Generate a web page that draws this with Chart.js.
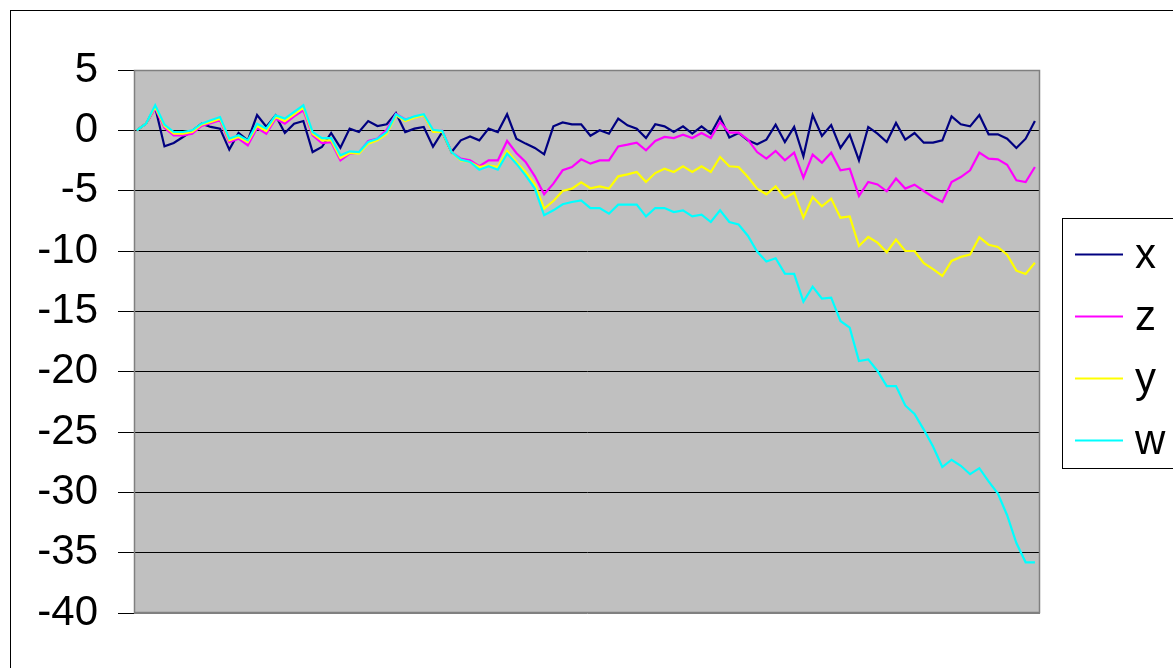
<!DOCTYPE html>
<html>
<head>
<meta charset="utf-8">
<style>
  html, body { margin: 0; padding: 0; background: #fff; }
  #wrap { width: 1173px; height: 668px; position: relative; overflow: hidden; }
</style>
<script src="https://cdn.jsdelivr.net/npm/chart.js@4.4.1/dist/chart.umd.min.js"></script>
</head>
<body>
<div id="wrap"><canvas id="c" width="1173" height="668"></canvas></div>
<script>
// Period numbers along the horizontal axis (not labelled)
const periods = Array.from({ length: 98 }, (_, i) => i + 1);

const seriesNames = ['x', 'z', 'y', 'w'];
const seriesColors = ['#000080', '#FF00FF', '#FFFF00', '#00FFFF'];

const xValues = [
  0, 0.55, 1.9, -1.33, -1.05, -0.55, -0.05, 0.55, 0.28, 0.14,
  -1.6, -0.22, -0.83, 1.27, 0.3, 1.24, -0.22, 0.55, 0.77, -1.8,
  -1.38, -0.22, -1.44, 0.14, -0.14, 0.77, 0.36, 0.5, 1.44, -0.14,
  0.14, 0.28, -1.35, -0.14, -1.8, -0.83, -0.5, -0.83, 0.14, -0.14,
  1.33, -0.69, -1.1, -1.46, -1.99, 0.33, 0.66, 0.5, 0.5, -0.45,
  0, -0.28, 0.97, 0.41, 0.14, -0.64, 0.5, 0.33, -0.14, 0.33,
  -0.28, 0.33, -0.28, 1.1, -0.6, -0.22, -0.83, -1.16, -0.77, 0.47,
  -0.97, 0.28, -2.15, 1.27, -0.47, 0.44, -1.46, -0.36, -2.49, 0.28,
  -0.28, -0.97, 0.61, -0.77, -0.22, -1.02, -1.02, -0.83, 1.16, 0.5,
  0.33, 1.27, -0.33, -0.33, -0.69, -1.46, -0.69, 0.77
];

const zValues = [
  0, 0.55, 1.8, 0.22, -0.41, -0.41, -0.28, 0.36, 0.6, 0.83,
  -0.97, -0.69, -1.24, 0.19, -0.28, 0.97, 0.55, 1.16, 1.66, -0.41,
  -1.05, -0.97, -2.49, -1.93, -1.85, -0.88, -0.69, 0.05, 1.38, 0.9,
  1.1, 1.24, -0.1, -0.05, -1.8, -2.35, -2.49, -2.98, -2.49, -2.49,
  -0.88, -1.88, -2.62, -3.81, -5.3, -4.42, -3.31, -3.04, -2.4, -2.76,
  -2.49, -2.49, -1.33, -1.19, -1.02, -1.66, -0.88, -0.55, -0.64, -0.36,
  -0.64, -0.22, -0.64, 0.69, -0.19, -0.19, -0.77, -1.8, -2.35, -1.71,
  -2.49, -1.85, -3.92, -2.02, -2.68, -1.85, -3.31, -3.18, -5.44, -4.28,
  -4.48, -5.05, -4.0, -4.83, -4.5, -5.03, -5.52, -5.94, -4.28, -3.87,
  -3.31, -1.85, -2.35, -2.4, -2.85, -4.14, -4.28, -3.04
];

const yValues = [
  0, 0.55, 1.93, 0.36, -0.28, -0.28, -0.14, 0.47, 0.69, 0.97,
  -0.83, -0.55, -0.97, 0.36, -0.05, 1.1, 0.77, 1.33, 1.88, -0.28,
  -0.83, -0.83, -2.29, -1.88, -1.93, -1.1, -0.83, -0.28, 1.24, 0.77,
  1.05, 1.24, -0.14, -0.14, -1.8, -2.49, -2.62, -3.04, -2.9, -3.04,
  -1.71, -2.62, -3.45, -4.48, -6.49, -5.86, -5.03, -4.83, -4.3, -4.8,
  -4.64, -4.83, -3.81, -3.65, -3.45, -4.28, -3.54, -3.18, -3.45, -2.98,
  -3.45, -2.98, -3.45, -2.21, -2.98, -3.04, -3.87, -4.83, -5.3, -4.64,
  -5.61, -5.17, -7.24, -5.52, -6.3, -5.66, -7.24, -7.13, -9.59, -8.84,
  -9.31, -10.1, -9.05, -10.0, -10.0, -11.0, -11.5, -12.07, -10.82, -10.49,
  -10.3, -8.86, -9.48, -9.67, -10.3, -11.63, -11.9, -10.98
];

const wValues = [
  0, 0.55, 2.07, 0.47, -0.14, -0.14, 0, 0.55, 0.83, 1.1,
  -0.69, -0.41, -0.83, 0.55, 0.14, 1.24, 0.97, 1.52, 2.07, -0.14,
  -0.64, -0.64, -2.07, -1.74, -1.8, -0.97, -0.69, -0.14, 1.33, 0.88,
  1.16, 1.33, 0.05, -0.05, -1.8, -2.43, -2.62, -3.26, -2.98, -3.26,
  -1.93, -2.76, -3.73, -4.83, -7.04, -6.63, -6.13, -5.94, -5.8, -6.44,
  -6.44, -6.91, -6.16, -6.16, -6.16, -7.13, -6.44, -6.44, -6.77, -6.63,
  -7.13, -6.99, -7.6, -6.63, -7.6, -7.8, -8.73, -10.04, -10.87, -10.6,
  -11.87, -11.9, -14.2, -12.95, -13.95, -13.87, -15.8, -16.35, -19.12, -18.98,
  -19.94, -21.2, -21.19, -22.8, -23.5, -24.8, -26.2, -27.9, -27.3, -27.8,
  -28.5, -28.0, -29.1, -30.1, -31.9, -34.2, -35.8, -35.8
];

const yTickValues = [5, 0, -5, -10, -15, -20, -25, -30, -35, -40];

const allValues = [xValues, zValues, yValues, wValues];
const FONT = "'Liberation Sans', Arial, sans-serif";

// Grey plot background, outer frame, and the plot-area border
const framePlugin = {
  id: 'frame',
  beforeDraw(chart) {
    const { ctx, chartArea: a } = chart;
    ctx.save();
    ctx.fillStyle = '#fff';
    ctx.fillRect(0, 0, chart.width, chart.height);
    ctx.strokeStyle = '#000';
    ctx.lineWidth = 1;
    ctx.strokeRect(10.5, 10.5, chart.width + 50, chart.height + 50);
    ctx.fillStyle = '#C0C0C0';
    ctx.fillRect(a.left, a.top, a.right - a.left, a.bottom - a.top);
    ctx.restore();
  },
  beforeDatasetsDraw(chart) {
    const { ctx, chartArea: a } = chart;
    ctx.save();
    ctx.strokeStyle = '#808080';
    ctx.lineWidth = 1.5;
    ctx.strokeRect(a.left + 0.5, a.top + 0.5, a.right - a.left - 1, a.bottom - a.top - 1);
    ctx.restore();
  }
};

// Boxed legend on the right, built from the chart's datasets
const boxLegendPlugin = {
  id: 'boxLegend',
  afterDraw(chart) {
    const { ctx } = chart;
    const left = 1062, top = 218, bottom = 468;
    ctx.save();
    ctx.fillStyle = '#fff';
    ctx.fillRect(left, top, chart.width - left + 20, bottom - top);
    ctx.strokeStyle = '#000';
    ctx.lineWidth = 1;
    ctx.strokeRect(left + 0.5, top + 0.5, chart.width - left + 20, bottom - top);
    const items = chart.data.datasets.slice().sort((p, q) => p.legendIndex - q.legendIndex);
    ctx.font = '42px ' + FONT;
    ctx.textBaseline = 'middle';
    ctx.textAlign = 'left';
    items.forEach((ds, k) => {
      const cy = 254 + k * 62;
      ctx.strokeStyle = ds.borderColor;
      ctx.lineWidth = 2;
      ctx.beginPath();
      ctx.moveTo(1075, cy + 0.5);
      ctx.lineTo(1123, cy + 0.5);
      ctx.stroke();
      ctx.fillStyle = '#000';
      ctx.fillText(ds.label, 1135, cy + 2);
    });
    ctx.restore();
  }
};

const datasets = seriesNames.map((name, k) => ({
  label: name,
  legendIndex: k,
  order: seriesNames.length - k,
  data: allValues[k].map((v, i) => ({ x: periods[i], y: v })),
  borderColor: seriesColors[k],
  backgroundColor: seriesColors[k],
  borderWidth: 2.2,
  pointRadius: 0,
  tension: 0,
  fill: false
}));

new Chart(document.getElementById('c'), {
  type: 'line',
  data: { datasets },
  options: {
    responsive: false,
    animation: false,
    devicePixelRatio: 1,
    layout: { padding: { left: 0, top: 70, right: 133, bottom: 55 } },
    plugins: { legend: { display: false }, tooltip: { enabled: false } },
    scales: {
      x: {
        type: 'linear',
        display: false,
        min: periods[0] - 0.29,
        max: periods[periods.length - 1] + 0.55
      },
      y: {
        min: -40,
        max: 5,
        afterFit(scale) { scale.width = 134; },
        afterBuildTicks(scale) { scale.ticks = yTickValues.map(v => ({ value: v })); },
        border: { display: true, color: '#808080', width: 1 },
        grid: {
          color: c => (c.tick && (c.tick.value === 5 || c.tick.value === -40)) ? '#808080' : '#000',
          lineWidth: 1,
          drawTicks: true,
          tickLength: 16,
          tickColor: '#000',
          tickWidth: 1
        },
        ticks: {
          color: '#000',
          padding: 20,
          font: { family: FONT, size: 42 },
          callback: v => String(v)
        }
      }
    }
  },
  plugins: [framePlugin, boxLegendPlugin]
});
</script>
</body>
</html>
